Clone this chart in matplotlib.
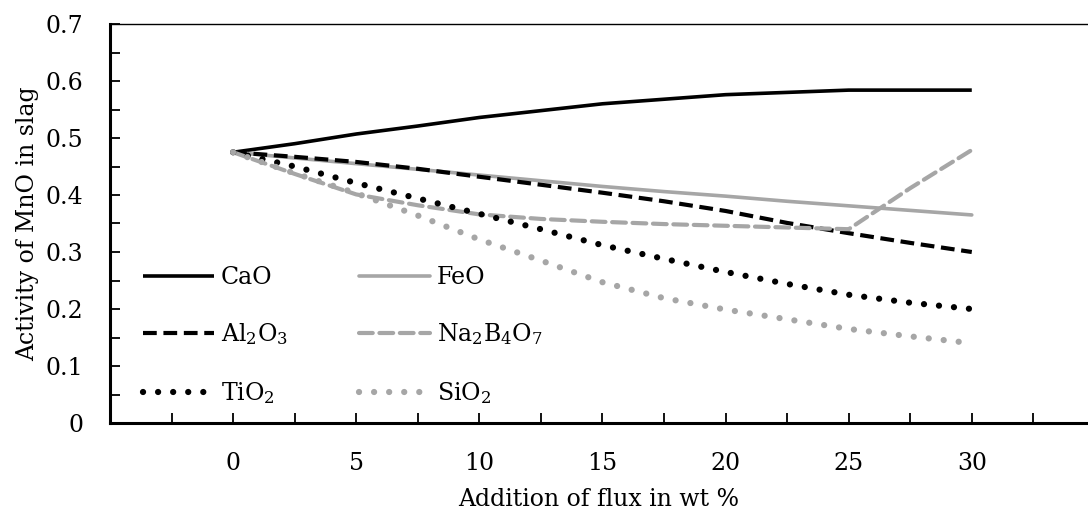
import numpy as np
import matplotlib
matplotlib.use("Agg")
import matplotlib.pyplot as plt
from matplotlib.ticker import MultipleLocator, FixedLocator, FuncFormatter

# fonts: serif, subscripts through mathtext in the same font
plt.rcParams['font.family'] = ['DejaVu Serif']
plt.rcParams['mathtext.fontset'] = 'custom'
plt.rcParams['mathtext.rm'] = 'DejaVu Serif'
plt.rcParams['mathtext.default'] = 'regular'

# data
flux = [0, 2.5, 5, 7.5, 10, 12.5, 15, 17.5, 20, 22.5, 25, 27.5, 30]
cao = [0.475, 0.490, 0.507, 0.521, 0.536, 0.548, 0.560, 0.568, 0.576, 0.580, 0.584, 0.584, 0.584]
feo = [0.475, 0.465, 0.455, 0.445, 0.435, 0.425, 0.415, 0.406, 0.398, 0.389, 0.381, 0.373, 0.365]
al2o3 = [0.475, 0.467, 0.458, 0.446, 0.432, 0.418, 0.404, 0.389, 0.372, 0.351, 0.333, 0.316, 0.300]
na2b4o7 = [0.475, 0.437, 0.401, 0.382, 0.366, 0.358, 0.353, 0.349, 0.346, 0.343, 0.340, 0.412, 0.479]
tio2 = [0.475, 0.450, 0.421, 0.394, 0.367, 0.340, 0.312, 0.288, 0.265, 0.244, 0.225, 0.211, 0.200]
sio2 = [0.475, 0.438, 0.403, 0.364, 0.322, 0.285, 0.247, 0.219, 0.199, 0.182, 0.165, 0.152, 0.140]

labels = ['CaO', 'FeO', 'Al$_2$O$_3$', 'Na$_2$B$_4$O$_7$', 'TiO$_2$', 'SiO$_2$']

black = 'black'
grey = '#A6A6A6'

fig = plt.figure(figsize=(10.88, 5.15), dpi=100)
ax = fig.add_axes([110 / 1088, 1 - 423 / 515, 1 - 110 / 1088, (423 - 24) / 515])

dash = (0, (3.3, 1.6))
dot = (0, (0.01, 2.4))

l_cao, = ax.plot(flux, cao, color=black, lw=2.6, solid_capstyle='butt', label=labels[0])
l_feo, = ax.plot(flux, feo, color=grey, lw=2.6, solid_capstyle='round', label=labels[1])
l_al, = ax.plot(flux, al2o3, color=black, lw=3.0, linestyle=dash, label=labels[2])
l_na, = ax.plot(flux, na2b4o7, color=grey, lw=3.0, linestyle=dash, dash_capstyle='round', label=labels[3])
l_ti, = ax.plot(flux, tio2, color=black, lw=4.5, linestyle=dot, dash_capstyle='round', label=labels[4])
l_si, = ax.plot(flux, sio2, color=grey, lw=4.5, linestyle=dot, dash_capstyle='round', label=labels[5])

ax.set_xlim(-5, 34.72)
ax.set_ylim(0, 0.7)

ax.xaxis.set_major_locator(FixedLocator([0, 5, 10, 15, 20, 25, 30]))
ax.xaxis.set_minor_locator(FixedLocator([-2.5, 2.5, 7.5, 12.5, 17.5, 22.5, 27.5, 32.5]))
ax.yaxis.set_major_locator(MultipleLocator(0.1))
ax.yaxis.set_minor_locator(MultipleLocator(0.05))
ax.yaxis.set_major_formatter(FuncFormatter(lambda v, p: '0' if abs(v) < 1e-9 else f'{v:.1f}'))

ax.tick_params(axis='both', which='both', direction='in', length=7, width=1.3, labelsize=17)
ax.tick_params(axis='x', pad=21)
ax.tick_params(axis='y', pad=19)

ax.spines['left'].set_linewidth(2.2)
ax.spines['bottom'].set_linewidth(2.2)
ax.spines['top'].set_linewidth(1.0)
ax.spines['right'].set_visible(False)

ax.set_xlabel('Addition of flux in wt %', fontsize=17, labelpad=9)
ax.set_ylabel('Activity of MnO in slag', fontsize=17, labelpad=5)

# legend filled column by column, so order handles to read row by row
ax.legend([l_cao, l_al, l_ti, l_feo, l_na, l_si],
          [labels[0], labels[2], labels[4], labels[1], labels[3], labels[5]],
          ncol=2, loc='upper left', bbox_to_anchor=(0.012, 0.447), frameon=False,
          fontsize=17, handlelength=3.0, handletextpad=0.3, labelspacing=1.38,
          columnspacing=3.0)

fig.savefig('out.png', dpi=100)
